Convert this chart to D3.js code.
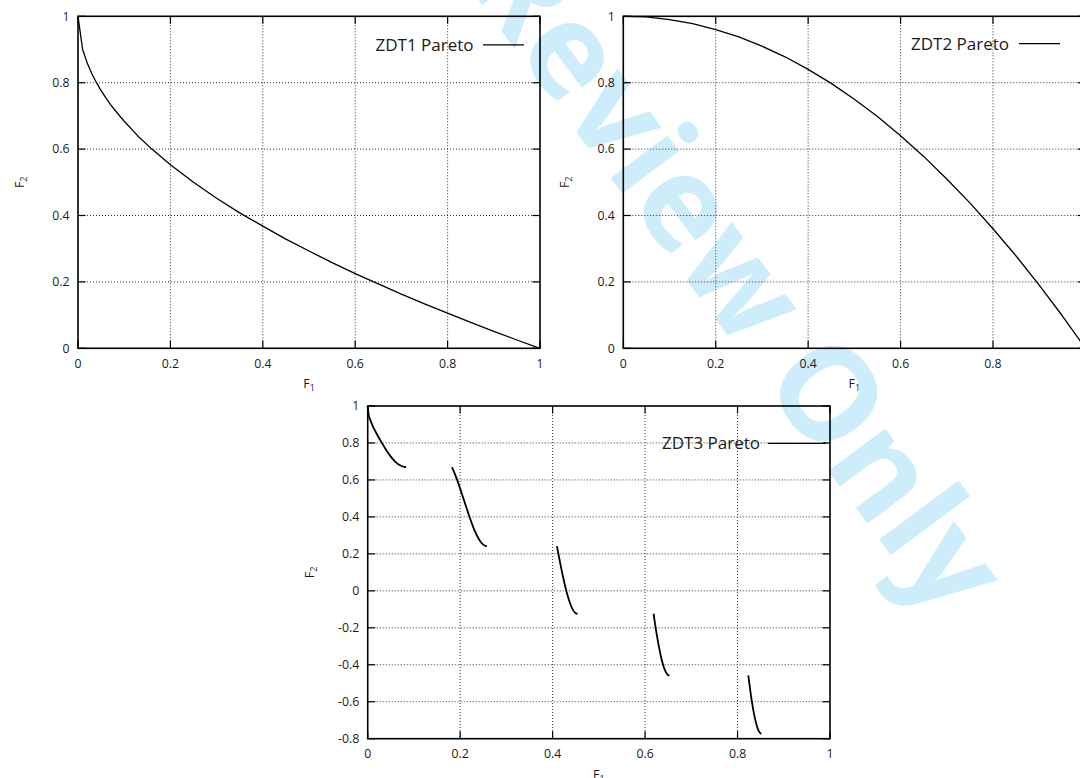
<!DOCTYPE html>
<html>
<head>
<meta charset="utf-8">
<script src="https://cdn.jsdelivr.net/npm/d3@7"></script>
<style>
  html, body { margin: 0; padding: 0; background: #fff; overflow: hidden; }
  svg { display: block; }
  text { font-family: "Open Sans", sans-serif; fill: #1a1a1a; }
</style>
</head>
<body>
<svg id="chart" width="1080" height="778"></svg>
<script>
// ---- data -------------------------------------------------------------
// ZDT1 Pareto front samples (F1, F2)
const zdt1F1 = [0, 0.01, 0.02, 0.03, 0.04, 0.05, 0.06, 0.07, 0.08, 0.10, 0.12, 0.13, 0.16, 0.20,
                0.25, 0.30, 0.35, 0.40, 0.45, 0.50, 0.55, 0.60, 0.65, 0.70, 0.75, 0.80, 0.85, 0.90, 0.95, 1.00];
const zdt1F2 = [1.000, 0.900, 0.859, 0.827, 0.800, 0.776, 0.755, 0.735, 0.717, 0.684, 0.654, 0.639, 0.600, 0.553,
                0.500, 0.452, 0.408, 0.368, 0.329, 0.293, 0.258, 0.225, 0.194, 0.163, 0.134, 0.106, 0.078, 0.051, 0.025, 0.000];

// ZDT2 Pareto front samples
const zdt2F1 = [0, 0.05, 0.10, 0.15, 0.20, 0.25, 0.30, 0.35, 0.40, 0.45, 0.50,
                0.55, 0.60, 0.65, 0.70, 0.75, 0.80, 0.85, 0.90, 0.95, 1.00];
const zdt2F2 = [1.000, 0.998, 0.990, 0.978, 0.960, 0.938, 0.910, 0.878, 0.840, 0.798, 0.750,
                0.698, 0.640, 0.578, 0.510, 0.438, 0.360, 0.278, 0.190, 0.098, 0.000];

// ZDT3 Pareto front: five disconnected pieces
const zdt3F1 = [
  [0, 0.002, 0.005, 0.01, 0.015, 0.02, 0.03, 0.04, 0.05, 0.06, 0.07, 0.08, 0.083],
  [0.1822, 0.19, 0.20, 0.21, 0.22, 0.23, 0.24, 0.245, 0.25, 0.255, 0.2578],
  [0.4093, 0.415, 0.42, 0.425, 0.43, 0.435, 0.44, 0.445, 0.45, 0.4539],
  [0.6184, 0.625, 0.63, 0.635, 0.64, 0.645, 0.65, 0.6525],
  [0.8233, 0.83, 0.835, 0.84, 0.845, 0.85, 0.8518]
];
const zdt3F2 = [
  [1.000, 0.955, 0.929, 0.897, 0.871, 0.847, 0.803, 0.762, 0.726, 0.698, 0.679, 0.670, 0.670],
  [0.669, 0.623, 0.553, 0.477, 0.402, 0.334, 0.282, 0.263, 0.250, 0.243, 0.242],
  [0.242, 0.167, 0.105, 0.048, -0.004, -0.047, -0.082, -0.107, -0.121, -0.124],
  [-0.124, -0.233, -0.303, -0.363, -0.409, -0.440, -0.456, -0.458],
  [-0.458, -0.583, -0.658, -0.715, -0.754, -0.772, -0.773]
];

// axis ticks
const xTicks = [0, 0.2, 0.4, 0.6, 0.8, 1];
const yTicksUnit = [0, 0.2, 0.4, 0.6, 0.8, 1];
const yTicksZdt3 = [-0.8, -0.6, -0.4, -0.2, 0, 0.2, 0.4, 0.6, 0.8, 1];

const legendLabels = ["ZDT1 Pareto", "ZDT2 Pareto", "ZDT3 Pareto"];
const xTitle = "F", xSub = "1";
const yTitle = "F", ySub = "2";
const watermarkText = "For Review Only";

// ---- layout -----------------------------------------------------------
const panels = [
  { left: 78,    right: 540,    top: 16.3,  bottom: 348.3, yDomain: [0, 1],    yTicks: yTicksUnit,
    series: [{ f1: zdt1F1, f2: zdt1F2 }], label: legendLabels[0],
    legendTextEnd: 473.5, legendBase: 50.5, legendLine: [483, 524], legendY: 44.8, width: 1.3 },
  { left: 623.3, right: 1085.4, top: 16.3,  bottom: 348.3, yDomain: [0, 1],    yTicks: yTicksUnit,
    series: [{ f1: zdt2F1, f2: zdt2F2 }], label: legendLabels[1],
    legendTextEnd: 1009, legendBase: 49.6, legendLine: [1019, 1060], legendY: 43.6, width: 1.3 },
  { left: 367.7, right: 830,    top: 406,   bottom: 738.7, yDomain: [-0.8, 1], yTicks: yTicksZdt3,
    series: zdt3F1.map((f, i) => ({ f1: f, f2: zdt3F2[i] })), label: legendLabels[2],
    legendTextEnd: 760, legendBase: 448.5, legendLine: [768, 826], legendY: 443.3, width: 1.8 }
];

const svg = d3.select("#chart");

// ---- watermark (behind the plots) --------------------------------------
const wm = svg.append("text")
  .text(watermarkText)
  .attr("x", 0).attr("y", 0)
  .attr("font-size", 130)
  .attr("font-weight", 700)
  .style("fill", "#cdedfb");
{
  const box = wm.node().getExtentOfChar(watermarkText.lastIndexOf("l"));
  const cx = box.x + box.width / 2;
  wm.attr("transform", `translate(885,547.3) rotate(53.4) translate(${-cx},0)`);
}

const fmt = v => String(+v.toFixed(1));

panels.forEach(p => {
  const x = d3.scaleLinear().domain([0, 1]).range([p.left, p.right]);
  const y = d3.scaleLinear().domain(p.yDomain).range([p.bottom, p.top]);
  const g = svg.append("g");

  // dotted grid
  g.append("g").selectAll("line").data(xTicks.filter(t => t > 0 && t < 1)).join("line")
    .attr("x1", d => x(d)).attr("x2", d => x(d))
    .attr("y1", p.top).attr("y2", p.bottom)
    .attr("stroke", "#333").attr("stroke-width", 1).attr("stroke-dasharray", "1,2");
  g.append("g").selectAll("line").data(p.yTicks.filter(t => t > p.yDomain[0] && t < p.yDomain[1])).join("line")
    .attr("y1", d => y(d)).attr("y2", d => y(d))
    .attr("x1", p.left).attr("x2", p.right)
    .attr("stroke", "#333").attr("stroke-width", 1).attr("stroke-dasharray", "1,2");

  // inward ticks on all four sides
  const tl = 7.5;
  const ticks = g.append("g").attr("stroke", "#000").attr("stroke-width", 1.2);
  xTicks.forEach(t => {
    ticks.append("line").attr("x1", x(t)).attr("x2", x(t)).attr("y1", p.bottom).attr("y2", p.bottom - tl);
    ticks.append("line").attr("x1", x(t)).attr("x2", x(t)).attr("y1", p.top).attr("y2", p.top + tl);
  });
  p.yTicks.forEach(t => {
    ticks.append("line").attr("y1", y(t)).attr("y2", y(t)).attr("x1", p.left).attr("x2", p.left + tl);
    ticks.append("line").attr("y1", y(t)).attr("y2", y(t)).attr("x1", p.right).attr("x2", p.right - tl);
  });

  // tick labels
  g.append("g").selectAll("text").data(xTicks).join("text")
    .attr("x", d => x(d)).attr("y", p.bottom + 19.5)
    .attr("text-anchor", "middle").attr("font-size", 12.3).text(fmt);
  g.append("g").selectAll("text").data(p.yTicks).join("text")
    .attr("x", p.left - 8.5).attr("y", d => y(d) + 4.3)
    .attr("text-anchor", "end").attr("font-size", 12.3).text(fmt);

  // axis titles
  const xt = g.append("text")
    .attr("x", (p.left + p.right) / 2).attr("y", p.bottom + 40)
    .attr("text-anchor", "middle").attr("font-size", 12.5);
  xt.append("tspan").text(xTitle);
  xt.append("tspan").attr("font-size", 9).attr("dy", 3).text(xSub);

  const cy = (p.top + p.bottom) / 2;
  const yt = g.append("text")
    .attr("transform", `translate(${p.left - 54},${cy}) rotate(-90)`)
    .attr("text-anchor", "middle").attr("font-size", 12.5);
  yt.append("tspan").text(yTitle);
  yt.append("tspan").attr("font-size", 9).attr("dy", 3).text(ySub);

  // Pareto front curves
  const line = d3.line()
    .x(d => x(d[0])).y(d => y(d[1]))
    .curve(p.width > 1.5 ? d3.curveMonotoneX : d3.curveLinear);
  p.series.forEach(s => {
    g.append("path")
      .datum(s.f1.map((v, i) => [v, s.f2[i]]))
      .attr("d", line)
      .attr("fill", "none").attr("stroke", "#000")
      .attr("stroke-width", p.width).attr("stroke-linejoin", "round");
  });

  // border
  g.append("rect")
    .attr("x", p.left).attr("y", p.top)
    .attr("width", p.right - p.left).attr("height", p.bottom - p.top)
    .attr("fill", "none").attr("stroke", "#000").attr("stroke-width", 1.6);

  // key
  g.append("text")
    .attr("x", p.legendTextEnd).attr("y", p.legendBase)
    .attr("text-anchor", "end").attr("font-size", 17).text(p.label);
  g.append("line")
    .attr("x1", p.legendLine[0]).attr("x2", p.legendLine[1])
    .attr("y1", p.legendY).attr("y2", p.legendY)
    .attr("stroke", "#000").attr("stroke-width", 1.3);
});
</script>
</body>
</html>
